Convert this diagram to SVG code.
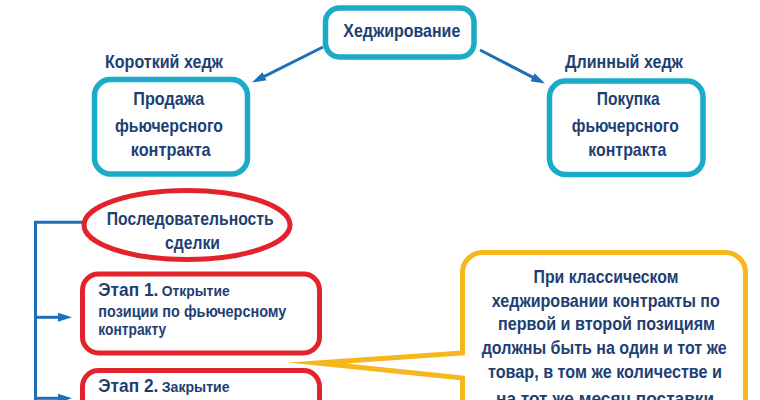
<svg xmlns="http://www.w3.org/2000/svg" width="760" height="400" viewBox="0 0 760 400">
<defs>
<style>
text{font-family:"Liberation Sans",Arial,sans-serif;font-weight:bold;fill:#1E3F73}
.t{font-size:19px}
.c{font-size:18.5px;text-anchor:middle}
.s{font-size:17px}
.m{font-size:15.5px}
.b{font-size:18.5px}
.teal{fill:#fff;stroke:#1AABC6;stroke-width:5.5}
.red{fill:#fff;stroke:#E3232B;stroke-width:5}
.con{fill:none;stroke:#1E6FB8;stroke-width:3}
</style>
<marker id="ah" markerWidth="14" markerHeight="10" refX="8" refY="5" orient="auto" markerUnits="userSpaceOnUse">
<path d="M0,0.5 L14,5 L0,9.5 Z" fill="#1E6FB8"/>
</marker>
</defs>
<rect width="760" height="400" fill="#fff"/>

<g id="connectors">
<line class="con" x1="323" y1="47" x2="257.4" y2="79.8" marker-end="url(#ah)"/>
<line class="con" x1="480" y1="50" x2="539.7" y2="80.8" marker-end="url(#ah)"/>
<path class="con" d="M82,222.3 H35.5 V410"/>
<line class="con" x1="35.5" y1="317.3" x2="66" y2="317.3" marker-end="url(#ah)"/>
<line class="con" x1="35.5" y1="398.3" x2="66" y2="398.3" marker-end="url(#ah)"/>
</g>

<g id="hedging">
<rect class="teal" x="325.5" y="8" width="148.5" height="49" rx="14"/>
<text class="t" x="343.3" y="37" textLength="117" lengthAdjust="spacingAndGlyphs">Хеджирование</text>
</g>

<g id="short-hedge">
<text class="t" x="105" y="68.3" textLength="118" lengthAdjust="spacingAndGlyphs">Короткий хедж</text>
<rect class="teal" x="94.5" y="79.5" width="153" height="94.5" rx="16"/>
<text class="t" x="133.3" y="105" textLength="71" lengthAdjust="spacingAndGlyphs">Продажа</text>
<text class="t" x="115" y="131.7" textLength="108" lengthAdjust="spacingAndGlyphs">фьючерсного</text>
<text class="t" x="130.7" y="155.7" textLength="80" lengthAdjust="spacingAndGlyphs">контракта</text>
</g>

<g id="long-hedge">
<text class="t" x="565" y="68.3" textLength="118" lengthAdjust="spacingAndGlyphs">Длинный хедж</text>
<rect class="teal" x="549.5" y="81" width="153.5" height="93.5" rx="16"/>
<text class="t" x="596.7" y="105" textLength="63" lengthAdjust="spacingAndGlyphs">Покупка</text>
<text class="t" x="571.7" y="131.7" textLength="107" lengthAdjust="spacingAndGlyphs">фьючерсного</text>
<text class="t" x="588.3" y="155.7" textLength="78" lengthAdjust="spacingAndGlyphs">контракта</text>
</g>

<g id="sequence">
<ellipse class="red" cx="187" cy="225" rx="103" ry="34.5"/>
<text class="t" x="106.7" y="225" textLength="167" lengthAdjust="spacingAndGlyphs">Последовательность</text>
<text class="t" x="165" y="249.3" textLength="55" lengthAdjust="spacingAndGlyphs">сделки</text>
</g>

<g id="stage1">
<rect class="red" x="82.5" y="274" width="237" height="79" rx="16"/>
<text class="b" x="98.3" y="296" textLength="60" lengthAdjust="spacingAndGlyphs">Этап 1.</text>
<text class="m" x="161.7" y="296" textLength="68" lengthAdjust="spacingAndGlyphs">Открытие</text>
<text class="s" x="98.3" y="316.7" textLength="188" lengthAdjust="spacingAndGlyphs">позиции  по фьючерсному</text>
<text class="s" x="98.3" y="335" textLength="68" lengthAdjust="spacingAndGlyphs">контракту</text>
</g>

<g id="stage2">
<rect class="red" x="82.5" y="370.5" width="237" height="79" rx="16"/>
<text class="b" x="98.3" y="392" textLength="60" lengthAdjust="spacingAndGlyphs">Этап 2.</text>
<text class="m" x="161.7" y="392" textLength="68" lengthAdjust="spacingAndGlyphs">Закрытие</text>
</g>

<g id="note">
<path d="M462.5,420 L462.5,378 L317,363 L462.5,353 L462.5,272.5 A20,20 0 0 1 482.5,252.5 L725.5,252.5 A20,20 0 0 1 745.5,272.5 L745.5,420" fill="#fff" stroke="#F6B71C" stroke-width="5" stroke-linejoin="miter" stroke-miterlimit="20"/>
<text class="c" x="606" y="283" textLength="145" lengthAdjust="spacingAndGlyphs">При классическом</text>
<text class="c" x="605.8" y="306.5" textLength="228" lengthAdjust="spacingAndGlyphs">хеджировании контракты по</text>
<text class="c" x="606.5" y="330.2" textLength="217" lengthAdjust="spacingAndGlyphs">первой и второй позициям</text>
<text class="c" x="604.2" y="354" textLength="245" lengthAdjust="spacingAndGlyphs" style="font-size:17.5px">должны быть на один и тот же</text>
<text class="c" x="605" y="377.7" textLength="234" lengthAdjust="spacingAndGlyphs">товар, в том же количестве и</text>
<text class="c" x="605" y="404.5" textLength="218" lengthAdjust="spacingAndGlyphs">на тот же месяц поставки</text>
</g>
</svg>
